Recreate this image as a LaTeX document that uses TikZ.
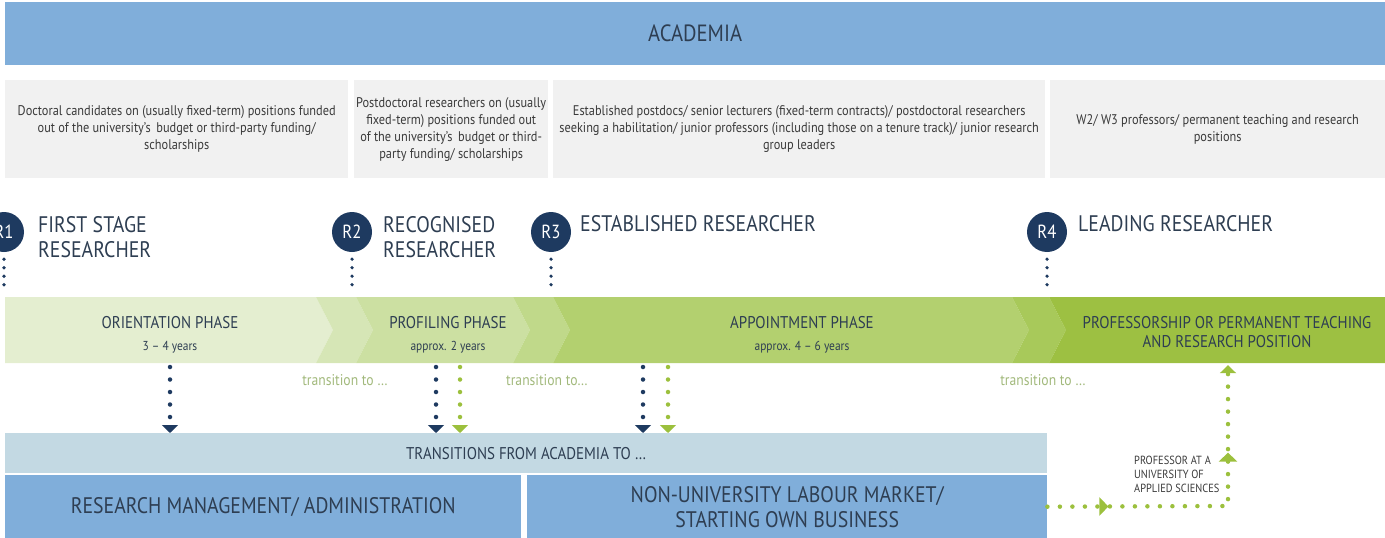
\documentclass[tikz,border=0pt]{standalone}
\usepackage{fontspec}
\setmainfont{PT Sans}[FakeStretch=0.88]
\usetikzlibrary{arrows.meta,decorations.markings}
\definecolor{acad}{HTML}{80AEDA}
\definecolor{greybox}{HTML}{F1F1F1}
\definecolor{navy}{HTML}{1E3A60}
\definecolor{txt}{HTML}{2E3E52}
\definecolor{gtxt}{HTML}{3A3A3A}
\definecolor{bandA}{HTML}{E4EED0}
\definecolor{bandT1}{HTML}{D6E6B6}
\definecolor{bandB}{HTML}{CCE0A2}
\definecolor{bandT2}{HTML}{C0D98A}
\definecolor{bandC}{HTML}{B3D06F}
\definecolor{bandT3}{HTML}{A8C95A}
\definecolor{bandD}{HTML}{9DC042}
\definecolor{grn}{HTML}{9CC03D}
\definecolor{transtxt}{HTML}{A2B97C}
\definecolor{transbar}{HTML}{C3D9E3}
\newcommand{\yrsfont}{\fontsize{13}{13}\selectfont}
\tikzset{
  box/.style={anchor=north west, inner sep=0pt, align=center},
  bluebox/.style={box, fill=acad, text=txt},
  greyb/.style={box, fill=greybox, text=gtxt, font=\fontsize{14}{17}\selectfont},
  rcirc/.style={circle, fill=navy, text=white, minimum size=40pt, inner sep=0pt, font=\fontsize{19}{19}\selectfont},
  rlabel/.style={anchor=west, align=left, text=txt, inner sep=0pt, font=\fontsize{22.5}{25}\selectfont},
  phase/.style={inner sep=0pt, minimum height=66pt, align=center, text=txt, font=\fontsize{17}{22}\selectfont},
  smalldots/.style={navy, line width=3.6pt, line cap=round, dash pattern=on 0pt off 8.5pt},
  navyarrow/.style={navy, line width=4.5pt, line cap=round, dash pattern=on 0pt off 12.5pt, -{Triangle[width=16pt,length=8pt]}},
  grnarrow/.style={grn, line width=4.5pt, line cap=round, dash pattern=on 0pt off 12.5pt, -{Triangle[width=16pt,length=8pt]}},
  transtext/.style={text=transtxt, inner sep=0pt, font=\fontsize{15.5}{15.5}\selectfont},
}
\begin{document}
\begin{tikzpicture}[x=1pt,y=-1pt]
\useasboundingbox (0,0) rectangle (1385,538);
% top bar
\node[bluebox, minimum width=1380pt, minimum height=63pt, font=\fontsize{23.5}{23.5}\selectfont] (acad) at (5,2) {ACADEMIA};
% grey boxes
\node[greyb, minimum width=343pt, minimum height=98pt] (g1) at (5,80) {Doctoral candidates on (usually fixed-term) positions funded\\out of the university's\, budget or third-party funding/\\scholarships};
\node[greyb, minimum width=194pt, minimum height=98pt] (g2) at (354,80) {Postdoctoral researchers on (usually\\fixed-term) positions funded out\\of the university's\, budget or third-\\party funding/ scholarships};
\node[greyb, minimum width=492pt, minimum height=98pt] (g3) at (553,80) {Established postdocs/ senior lecturers (fixed-term contracts)/ postdoctoral researchers\\seeking a habilitation/ junior professors (including those on a tenure track)/ junior research\\group leaders};
\node[greyb, minimum width=335pt, minimum height=98pt] (g4) at (1050,80) {W2/ W3 professors/ permanent teaching and research\\positions};
% band
\fill[bandA] (5,297) -- (316,297) -- (333,330) -- (316,363) -- (5,363) -- cycle;
\fill[bandT1] (316,297) -- (356,297) -- (373,330) -- (356,363) -- (316,363) -- (333,330) -- cycle;
\fill[bandB] (356,297) -- (513,297) -- (530,330) -- (513,363) -- (356,363) -- (373,330) -- cycle;
\fill[bandT2] (513,297) -- (553,297) -- (570,330) -- (553,363) -- (513,363) -- (530,330) -- cycle;
\fill[bandC] (553,297) -- (1012,297) -- (1029,330) -- (1012,363) -- (553,363) -- (570,330) -- cycle;
\fill[bandT3] (1012,297) -- (1049,297) -- (1066,330) -- (1049,363) -- (1012,363) -- (1029,330) -- cycle;
\fill[bandD] (1049,297) -- (1385,297) -- (1385,363) -- (1049,363) -- (1066,330) -- cycle;
\node[phase] (orient) at (170,335) {ORIENTATION PHASE\\{\yrsfont 3 -- 4 years}};
\node[phase] (profil) at (448,335) {PROFILING PHASE\\{\yrsfont approx. 2 years}};
\node[phase] (appoint) at (802,335) {APPOINTMENT PHASE\\{\yrsfont approx. 4 -- 6 years}};
\node[phase, minimum width=300pt, font=\fontsize{17}{19}\selectfont] (profess) at (1227,332) {PROFESSORSHIP OR PERMANENT TEACHING\\AND RESEARCH POSITION};
% R circles and labels
\node[rcirc] (r1) at (4,232) {R1};
\node[rcirc] (r2) at (352,232) {R2};
\node[rcirc] (r3) at (551,232) {R3};
\node[rcirc] (r4) at (1047,232) {R4};
\node[rlabel] (l1) at (38,237) {FIRST STAGE\\RESEARCHER};
\node[rlabel] (l2) at (383,237) {RECOGNISED\\RESEARCHER};
\node[rlabel] (l3) at (580,224) {ESTABLISHED RESEARCHER};
\node[rlabel] (l4) at (1078,224) {LEADING RESEARCHER};
\foreach \r in {r1,r2,r3,r4}{
  \draw[smalldots] (\r.south) ++(0,7) coordinate (tmp) -- (tmp |- 0,292);
}
% transitions bar and bottom boxes
\node[box, fill=transbar, minimum width=1042pt, minimum height=40pt, text=txt, font=\fontsize{17}{17}\selectfont] (trans) at (5,433) {TRANSITIONS FROM ACADEMIA TO \dots};
\node[bluebox, minimum width=516pt, minimum height=63pt, font=\fontsize{22.5}{25}\selectfont] (resm) at (5,475) {RESEARCH MANAGEMENT/ ADMINISTRATION};
\node[bluebox, minimum width=520pt, minimum height=63pt, font=\fontsize{22.5}{25}\selectfont] (nonu) at (527,475) {NON-UNIVERSITY LABOUR MARKET/\\STARTING OWN BUSINESS};
% transition labels
\node[transtext] (t1) at (345,380) {transition to \dots};
\node[transtext] (t2) at (547,380) {transition to\dots};
\node[transtext] (t3) at (1043,380) {transition to \dots};
% down arrows
\coordinate (d1) at (170,367);
\coordinate (d2) at (436,367);
\coordinate (d3) at (460,367);
\coordinate (d4) at (643,367);
\coordinate (d5) at (668,367);
\draw[navyarrow] (d1) -- (d1 |- trans.north);
\draw[navyarrow] (d2) -- (d2 |- trans.north);
\draw[grnarrow] (d3) -- (d3 |- trans.north);
\draw[navyarrow] (d4) -- (d4 |- trans.north);
\draw[grnarrow] (d5) -- (d5 |- trans.north);
% professor at UAS path
\node[anchor=north west, align=left, inner sep=0pt, text=gtxt, font=\fontsize{11.8}{14}\selectfont] (uas) at (1134,456) {PROFESSOR AT A\\UNIVERSITY OF\\APPLIED SCIENCES};
\coordinate (corner) at (1228,506);
\draw[grnarrow, postaction={decorate}, decoration={markings,
   mark=at position 61pt with {\arrow{Triangle[width=18pt,length=9pt]}},
   mark=at position 234pt with {\arrow{Triangle[width=18pt,length=9pt]}}}]
  (nonu.east) -- (corner) -- (corner |- profess.south);
\end{tikzpicture}
\end{document}
